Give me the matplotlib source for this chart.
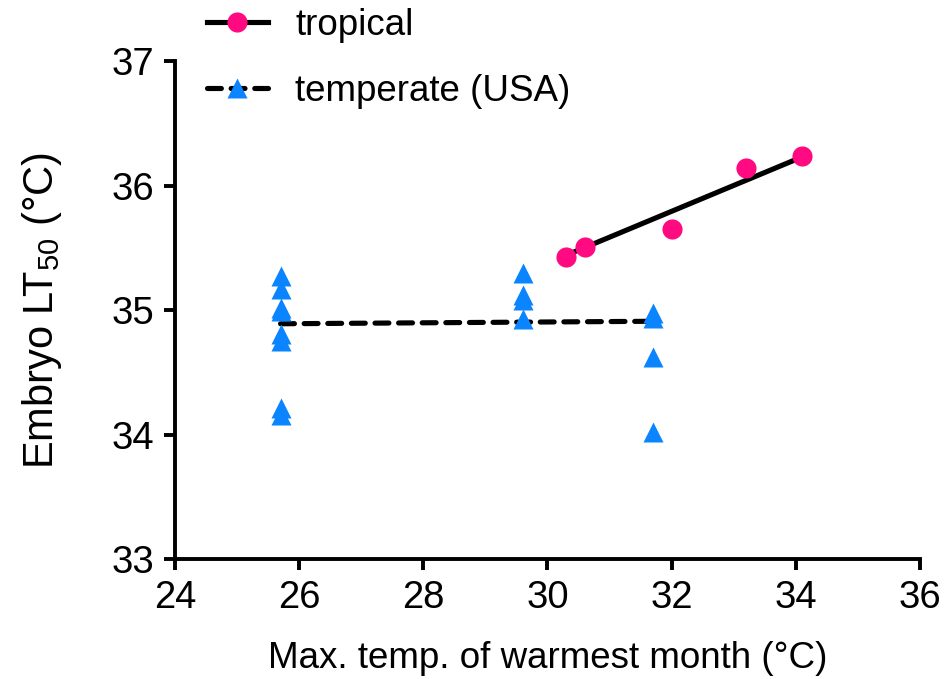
import matplotlib
matplotlib.use("Agg")
import matplotlib.pyplot as plt
from matplotlib.lines import Line2D

plt.rcParams['font.family'] = ['Liberation Sans', 'DejaVu Sans']
plt.rcParams['mathtext.fontset'] = 'custom'
plt.rcParams['mathtext.rm'] = 'Liberation Sans'
plt.rcParams['mathtext.it'] = 'Liberation Sans'
plt.rcParams['lines.scale_dashes'] = False

# Data
trop_x = [30.3, 30.6, 32.0, 33.2, 34.1]
trop_y = [35.43, 35.51, 35.65, 36.14, 36.24]
temp_x = [25.7, 25.7, 25.7, 25.7, 25.7, 25.7, 25.7, 25.7,
          29.6, 29.6, 29.6, 29.6,
          31.7, 31.7, 31.7, 31.7]
temp_y = [35.27, 35.17, 35.02, 34.99, 34.81, 34.75, 34.21, 34.16,
          35.30, 35.12, 35.08, 34.93,
          34.98, 34.94, 34.62, 34.02]
trop_fit_x = [30.3, 34.1]
trop_fit_y = [35.44, 36.23]
temp_fit_x = [25.7, 31.7]
temp_fit_y = [34.89, 34.91]

x_ticks = [24, 26, 28, 30, 32, 34, 36]
y_ticks = [33, 34, 35, 36, 37]

PINK = '#FF0A80'
BLUE = '#0A84FF'
FS_TICK = 27.5
FS_LAB = 26.5
LW = 3.7

fig = plt.figure(figsize=(9.46, 6.79), dpi=100)
ax = fig.add_axes([0.185, 0.1767, 0.7875, 0.7333])

ax.plot(trop_fit_x, trop_fit_y, color='black', lw=LW, solid_capstyle='butt', zorder=2)
ax.plot(temp_fit_x, temp_fit_y, color='black', lw=LW, dashes=(10, 7),
        dash_capstyle='round', zorder=2)
ax.plot(trop_x, trop_y, 'o', color=PINK, ms=14.5, mec='none', zorder=3)
ax.plot(temp_x, temp_y, '^', color=BLUE, ms=15, mec='none', zorder=3)

ax.set_xlim(24, 36)
ax.set_ylim(33, 37)
ax.set_xticks(x_ticks)
ax.set_yticks(y_ticks)
ax.set_xticklabels([str(t) for t in x_ticks], fontsize=FS_TICK)
ax.set_yticklabels([str(t) for t in y_ticks], fontsize=FS_TICK)
for s in ['top', 'right']:
    ax.spines[s].set_visible(False)
for s in ['left', 'bottom']:
    ax.spines[s].set_linewidth(2.8)
ax.tick_params(direction='out', length=8, width=2.8, pad=7)

ax.set_xlabel('Max. temp. of warmest month (°C)', fontsize=FS_LAB, labelpad=18)
ax.set_ylabel(r'Embryo $\mathrm{L\!T}_{50}$ (°C)', fontsize=30, labelpad=34)

h1 = Line2D([], [], color='black', lw=LW, marker='o', ms=14.5, mfc=PINK, mec='none')
h2 = Line2D([], [], color='black', lw=LW, dashes=(10, 7), dash_capstyle='round',
            marker='^', ms=15, mfc=BLUE, mec='none')
fig.legend([h1, h2], ['tropical', 'temperate (USA)'], loc='upper left',
           bbox_to_anchor=(0.207, 1.005), frameon=False, fontsize=FS_LAB,
           handlelength=1.65, handletextpad=0.75, labelspacing=0.85,
           borderaxespad=0, borderpad=0.3)

fig.savefig('out.png', dpi=100)
